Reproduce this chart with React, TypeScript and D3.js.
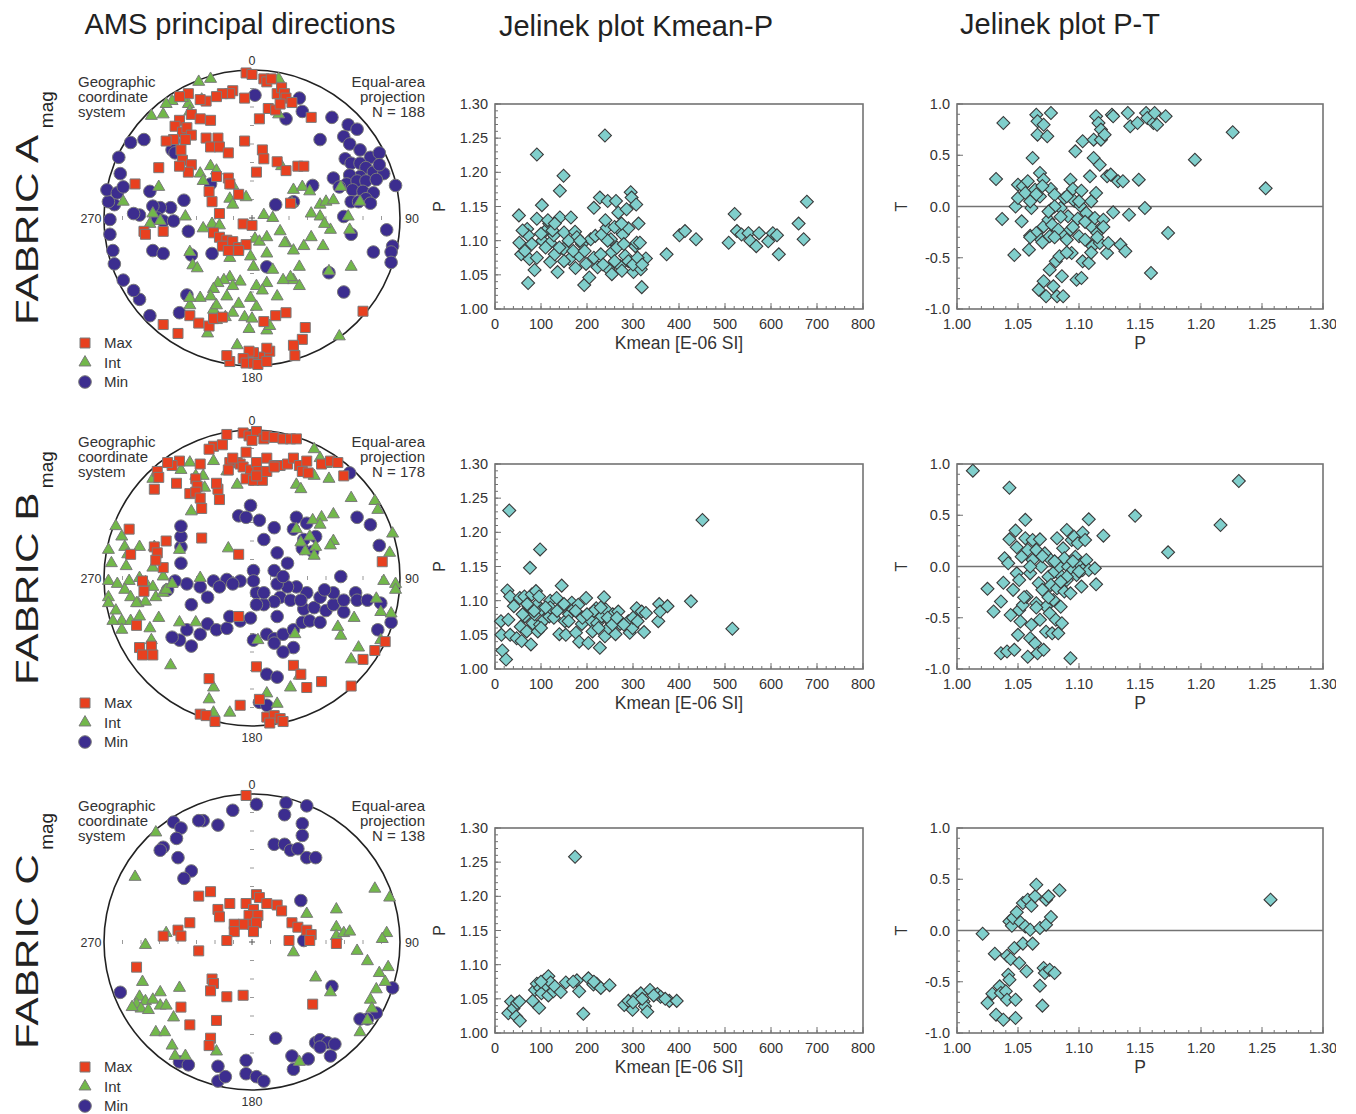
import * as d3 from "d3";

// AMS fabrics: stereonets + Jelinek plots.
// Stereonet points are equal-area projected positions in % of net radius: [east, north].

const FONT = '"Liberation Sans", Arial, Helvetica, sans-serif';

const maxA: [number, number][] = [
  [-4, 98], [0, 97], [8, 94], [10, 92], [13, 94], [17, 84], [20, 88], [22, 84], [23, 81], [27, 78], [11, 74], [16, 73], [19, 77], [5, 67], [40, 68],
  [-5, 81], [-13, 86], [-15, 84], [-20, 84], [-24, 82], [-31, 79], [-35, 80], [-43, 84], [-49, 82], [-41, 70], [-49, 66], [-52, 62], [-47, 58], [-44, 61],
  [-35, 67], [-28, 66], [-41, 56], [-45, 53], [-53, 53], [-58, 52], [-48, 46], [-47, 39], [-41, 36], [-43, 31], [-49, 35], [-63, 34], [-31, 54], [-23, 54],
  [-28, 48], [-22, 48], [-16, 44], [-5, 52], [7, 46], [8, 40], [3, 31], [17, 38], [23, 32], [31, 35], [-24, 28], [-16, 27], [-15, 23], [-9, 16], [-29, 18],
  [-27, 11], [-22, 3], [-6, -4], [0, -5], [-26, -10], [-22, -13], [-17, -15], [-13, -16], [-9, -20], [-20, -19], [-4, -18], [-16, -22], [-9, -22], [-79, 23],
  [-73, -9], [-72, -11], [-60, -9], [26, 10], [35, 35], [75, -63], [-60, -72], [-50, -78], [-42, -66], [-36, -71], [-29, -73], [-26, -68], [-20, -67], [8, -70],
  [16, -66], [23, -64], [36, -74], [34, -82], [28, -86], [29, -93], [12, -90], [10, -88], [5, -94], [1, -91], [-2, -90], [-6, -95], [-4, -98], [1, -98],
  [-15, -97], [-17, -93], [4, -99], [10, -97],
];
const intA: [number, number][] = [
  [-36, 92], [-28, 94], [18, 94], [18, 70], [-54, 79], [-43, 77], [-34, 80], [-42, 72], [-60, 70], [-68, 69], [-58, 77], [-47, 81], [-28, 35], [-35, 30],
  [-24, 32], [20, 35], [-63, 21], [-33, 25], [-13, 22], [-4, 14], [-15, 13], [-13, 9], [-27, -4], [-33, -7], [-22, -5], [28, 19], [34, 21], [27, 10],
  [39, 18], [46, 9], [50, 11], [55, 12], [60, 21], [73, 11], [65, 1], [53, -8], [66, -8], [40, 3], [46, 1], [49, -4], [8, 2], [14, 0], [19, -9], [23, -17],
  [28, -22], [35, -19], [40, -13], [48, -19], [2, -14], [5, -16], [10, -24], [14, -35], [22, -17], [67, -33], [52, -36], [32, -33], [28, -42], [32, -46],
  [26, -40], [21, -42], [17, -53], [10, -44], [3, -46], [7, -49], [1, -33], [-1, -26], [-8, -43], [-15, -40], [-19, -42], [-23, -44], [-26, -48], [-28, -53],
  [-35, -54], [-42, -59], [-26, -62], [-17, -53], [-13, -64], [-18, -67], [-24, -69], [-30, -78], [-24, -59], [-9, -58], [-5, -67], [0, -68], [-2, -75],
  [10, -76], [12, -73], [-10, -86], [59, -80], [-62, -2], [-67, 3], [-69, -4], [-87, 11], [-42, -23], [-40, -32], [-37, -34], [-42, -54], [-15, -27],
  [-13, -46], [-1, -54], [3, -60], [-45, 1], [10, -13],
];
const minA: [number, number][] = [
  [2, 83], [32, 81], [34, 72], [23, 67], [54, 68], [65, 63], [71, 60], [62, 55], [46, 53], [66, 50], [73, 46], [80, 41], [86, 44], [63, 40], [67, 37],
  [73, 37], [77, 34], [82, 31], [89, 30], [86, 36], [73, 28], [66, 29], [55, 27], [64, 23], [71, 25], [77, 25], [84, 26], [59, 21], [68, 19], [75, 18],
  [82, 17], [97, 22], [67, 11], [72, 11], [77, 13], [80, 10], [41, 22], [28, 11], [16, 9], [62, 1], [67, -11], [91, -8], [95, -19], [94, -23], [94, -30],
  [82, -23], [62, -50], [52, -37], [10, -33], [-27, -24], [-41, -25], [-43, -9], [-46, 12], [-55, 7], [-62, 7], [-67, 8], [-64, 0], [-60, -2], [-53, -2],
  [-76, 2], [-80, 3], [-69, 18], [-67, -22], [-60, -24], [-44, -52], [-49, -64], [-69, -66], [-76, -55], [-80, -49], [-87, -42], [-93, -31], [-94, -22],
  [-96, -11], [-96, -1], [-93, 9], [-97, 11], [-98, 19], [-91, 17], [-87, 21], [-89, 30], [-90, 41], [-82, 51], [-73, 53], [-53, 52], [-54, 46], [-52, 44],
  [-28, 23],
];

const maxB: [number, number][] = [
  [-17, 97], [-6, 98], [-2, 96], [3, 99], [0, 93], [8, 94], [10, 96], [15, 95], [21, 94], [26, 94], [30, 94], [-26, 89], [-20, 90], [-29, 87], [-4, 85],
  [-10, 78], [-15, 78], [-8, 77], [-6, 75], [-1, 73], [3, 78], [4, 72], [10, 81], [15, 76], [19, 76], [24, 77], [28, 81], [32, 76], [37, 79], [34, 72],
  [38, 71], [47, 77], [53, 79], [58, 78], [62, 69], [-4, 67], [1, 66], [7, 66], [3, 69], [-35, 77], [-49, 79], [-54, 76], [-57, 78], [-64, 72], [-63, 68],
  [-51, 64], [-66, 60], [-38, 67], [-37, 62], [-42, 57], [-38, 58], [-35, 54], [-34, 47], [-23, 60], [-22, 53], [-24, 64], [-13, 81], [-16, 73], [10, 72],
  [15, 75], [-83, 33], [-82, 16], [-66, 21], [-64, 17], [-60, 7], [-65, 12], [-58, 25], [-74, -2], [-73, -9], [-78, -32], [-76, -47], [-68, -46], [-74, -52],
  [-67, -52], [-34, 27], [-9, 16], [-9, -26], [3, -60], [28, -59], [33, -65], [37, -74], [47, -70], [67, -73], [75, -55], [83, -49], [90, -43], [88, 11],
  [-29, -68], [-8, -86], [5, -82], [-35, -92], [-31, -93], [-25, -97], [10, -94], [15, -93], [19, -95], [12, -98], [21, -97],
];
const intB: [number, number][] = [
  [-42, 78], [-33, 69], [-26, 79], [-17, 72], [-10, 63], [-38, 69], [-32, 61], [-41, 45], [-67, 67], [-48, 73], [42, 87], [46, 81], [50, 77], [42, 69],
  [52, 67], [30, 63], [33, 60], [67, 54], [83, 52], [85, 46], [55, 43], [47, 41], [41, 39], [46, 36], [30, 33], [39, 28], [33, 24], [43, 21], [36, 18],
  [42, 15], [55, 25], [53, 22], [95, 30], [93, 17], [89, -2], [97, -4], [97, -8], [84, -14], [87, -23], [94, -24], [69, -27], [60, -39], [58, -33], [87, -42],
  [72, -47], [67, -55], [29, -38], [32, -66], [26, -74], [10, -78], [17, -85], [-26, -74], [-29, -82], [-26, -91], [-15, -91], [-55, -59], [-49, -30],
  [-38, -30], [-16, 20], [4, -42], [-35, 0], [-92, 35], [-88, 28], [-86, 21], [-84, 16], [-97, 19], [-95, 10], [-85, 8], [-76, 21], [-66, 21], [-49, 19],
  [-67, 7], [-60, 1], [-97, -2], [-91, -4], [-83, -2], [-76, 0], [-72, -3], [-67, -6], [-86, -8], [-82, -13], [-77, -17], [-72, -16], [-65, -13], [-60, -10],
  [-97, -13], [-97, -17], [-92, -22], [-88, -29], [-82, -29], [-76, -26], [-69, -34], [-63, -27], [-78, -17], [-94, -29], [-88, -35], [-68, -42], [-58, -8],
  [-54, -4],
];
const minB: [number, number][] = [
  [-1, 49], [-9, 42], [-4, 41], [5, 39], [15, 34], [8, 26], [30, 41], [37, 37], [28, 33], [34, 20], [41, 18], [43, 28], [35, 26], [71, 41], [80, 36],
  [86, 22], [66, 71], [17, 17], [24, 10], [1, 5], [-8, -2], [-17, -1], [-26, -2], [-35, -6], [-44, -4], [-52, -2], [-48, 10], [-48, 21], [-48, 28], [-48, 35],
  [-57, -8], [-30, -13], [-41, -18], [-30, -31], [-35, -38], [-44, -35], [-49, -42], [-54, -40], [-41, -46], [-24, -35], [-17, -34], [-15, -26], [-8, -29],
  [-1, -27], [1, -42], [10, -38], [15, -41], [17, -26], [21, -38], [28, -35], [34, -30], [39, -29], [46, -30], [35, -21], [42, -20], [50, -22], [55, -18],
  [62, -23], [55, -10], [62, -15], [46, -13], [37, -10], [30, -6], [24, -6], [17, -4], [19, -13], [26, -15], [33, -15], [15, -16], [8, -18], [3, -10],
  [8, -10], [15, 5], [21, 1], [1, -2], [3, -18], [28, -47], [21, -50], [15, -44], [10, -65], [17, -67], [5, -84], [10, -86], [60, 1], [70, -10], [71, -15],
  [78, -15], [87, -17], [94, -30], [85, -35], [49, -8], [-22, -6], [-13, -4],
];

const maxC: [number, number][] = [
  [-4, 99], [-36, 31], [-28, 34], [-15, 26], [-23, 22], [-22, 17], [-4, 26], [3, 32], [5, 30], [10, 26], [1, 22], [-2, 18], [4, 18], [0, 12], [-6, 12],
  [3, 13], [-12, 12], [-12, 7], [1, 7], [17, 25], [20, 21], [27, 13], [31, 10], [37, 8], [40, 5], [39, 1], [57, -1], [25, 1], [-17, 1], [-36, -6],
  [-42, 13], [-50, 8], [-48, 4], [-60, 4], [-78, -17], [-27, -25], [-26, -28], [-28, -33], [-17, -37], [-6, -36], [-48, -44], [-24, -53], [-42, -56],
  [-28, -65], [-29, -70], [41, -42],
];
const intC: [number, number][] = [
  [-65, 74], [-79, 44], [83, 36], [93, 30], [37, 19], [57, 22], [57, 10], [57, 4], [62, 6], [66, 7], [71, -6], [78, -13], [86, -21], [92, -17], [91, 6],
  [88, 2], [90, -27], [84, -32], [80, -39], [81, -45], [78, -53], [73, -61], [43, -24], [53, -34], [28, -7], [-58, 6], [-72, -2], [-74, -27], [-76, -37],
  [-72, -40], [-67, -39], [-62, -34], [-62, -43], [-58, -43], [-53, -51], [-49, -31], [-78, -42], [-75, -45], [-70, -46], [-81, -44], [-65, -61],
  [-59, -61], [-54, -70], [-52, -77], [-45, -77], [-24, -74], [32, -81],
];
const minC: [number, number][] = [
  [3, 93], [23, 94], [37, 92], [-13, 89], [-23, 79], [-33, 82], [-36, 82], [-53, 81], [-48, 77], [-51, 70], [-60, 64], [-62, 62], [-50, 57], [-41, 48],
  [-46, 43], [22, 86], [34, 80], [34, 72], [15, 66], [22, 66], [26, 62], [31, 63], [37, 57], [43, 57], [33, 28], [35, 1], [54, -30], [95, -31], [84, -48],
  [78, -52], [73, -52], [16, -65], [43, -68], [46, -66], [51, -68], [56, -69], [46, -71], [53, -77], [27, -77], [28, -86], [38, -79], [-4, -80], [-4, -89],
  [3, -91], [8, -94], [-23, -84], [-23, -94], [-18, -91], [-49, -81], [-43, -83], [-89, -34],
];

// Jelinek plots: [Kmean (E-06 SI), P] and [P, T]
const kpA: [number, number][] = [
  [52, 1.137], [53, 1.097], [57, 1.08], [70, 1.117], [72, 1.108], [75, 1.073], [72, 1.038], [86, 1.057], [91, 1.226], [91, 1.132], [91, 1.075],
  [102, 1.152], [103, 1.1], [109, 1.114], [118, 1.125], [120, 1.069], [120, 1.097], [128, 1.108], [130, 1.08], [136, 1.054], [141, 1.173], [141, 1.134],
  [149, 1.195], [150, 1.112], [149, 1.088], [165, 1.134], [162, 1.073], [174, 1.113], [178, 1.105], [183, 1.078], [189, 1.095], [194, 1.035], [198, 1.066],
  [205, 1.046], [208, 1.102], [215, 1.148], [218, 1.107], [223, 1.061], [228, 1.163], [232, 1.109], [239, 1.254], [243, 1.119], [245, 1.158], [247, 1.058],
  [252, 1.102], [254, 1.083], [254, 1.051], [263, 1.158], [266, 1.119], [268, 1.141], [272, 1.063], [276, 1.056], [278, 1.109], [283, 1.078], [286, 1.146],
  [290, 1.118], [295, 1.171], [297, 1.163], [301, 1.054], [305, 1.092], [307, 1.153], [308, 1.097], [312, 1.125], [315, 1.097], [317, 1.058], [319, 1.032],
  [328, 1.074], [373, 1.08], [401, 1.108], [413, 1.114], [437, 1.102], [508, 1.097], [521, 1.139], [526, 1.114], [536, 1.109], [551, 1.111], [555, 1.1],
  [568, 1.092], [574, 1.111], [594, 1.099], [604, 1.111], [613, 1.108], [617, 1.08], [660, 1.125], [671, 1.102], [678, 1.157],
  [100, 1.11], [110, 1.09], [125, 1.115], [140, 1.09], [160, 1.1], [170, 1.085], [185, 1.1], [195, 1.085], [215, 1.075], [230, 1.08], [235, 1.065],
  [245, 1.1], [260, 1.07], [265, 1.09], [280, 1.095], [290, 1.07], [300, 1.065], [310, 1.075], [320, 1.065], [260, 1.12], [275, 1.125], [115, 1.13],
  [130, 1.125], [60, 1.115], [65, 1.085], [80, 1.095], [150, 1.07], [175, 1.06], [240, 1.13],
];
const ptA: [number, number][] = [
  [1.032, 0.268], [1.037, -0.122], [1.038, 0.815], [1.047, -0.473], [1.048, 0.0], [1.05, 0.213], [1.05, 0.083], [1.053, -0.145], [1.054, 0.197],
  [1.056, 0.132], [1.058, 0.246], [1.059, -0.421], [1.06, -0.285], [1.061, -0.015], [1.062, 0.473], [1.064, 0.163], [1.065, -0.259], [1.065, 0.896],
  [1.066, 0.701], [1.066, 0.831], [1.068, 0.327], [1.068, 0.098], [1.067, -0.811], [1.069, -0.324], [1.071, 0.262], [1.071, -0.194], [1.071, 0.798],
  [1.071, -0.73], [1.073, -0.876], [1.074, 0.685], [1.075, -0.129], [1.076, -0.291], [1.076, -0.616], [1.077, 0.912], [1.077, 0.171], [1.077, -0.03],
  [1.078, -0.177], [1.079, -0.779], [1.08, 0.115], [1.081, -0.535], [1.082, -0.876], [1.083, -0.226], [1.084, -0.486], [1.085, -0.015], [1.086, -0.681],
  [1.087, -0.876], [1.088, 0.083], [1.088, -0.291], [1.09, -0.324], [1.091, -0.096], [1.093, 0.262], [1.093, -0.226], [1.094, -0.454], [1.095, 0.171],
  [1.096, 0.057], [1.097, 0.538], [1.098, -0.714], [1.099, -0.119], [1.1, -0.291], [1.101, 0.008], [1.102, -0.698], [1.102, 0.154], [1.103, 0.636],
  [1.103, -0.535], [1.105, -0.324], [1.106, -0.063], [1.108, -0.551], [1.109, 0.294], [1.11, -0.194], [1.11, 0.05], [1.111, -0.389], [1.112, 0.652],
  [1.112, 0.473], [1.113, -0.112], [1.114, 0.88], [1.114, 0.132], [1.115, -0.259], [1.116, 0.815], [1.117, 0.408], [1.117, -0.356], [1.118, 0.75],
  [1.118, 0.652], [1.119, -0.194], [1.12, -0.129], [1.121, 0.701], [1.123, 0.294], [1.123, -0.454], [1.124, -0.356], [1.126, 0.311], [1.127, 0.896],
  [1.128, 0.88], [1.128, -0.057], [1.132, 0.246], [1.134, -0.372], [1.136, 0.246], [1.138, -0.437], [1.14, 0.912], [1.141, -0.08], [1.142, 0.782],
  [1.148, 0.815], [1.149, 0.262], [1.154, -0.015], [1.155, 0.912], [1.156, 0.863], [1.159, -0.649], [1.161, 0.815], [1.162, 0.912], [1.164, 0.798],
  [1.171, 0.88], [1.173, -0.259], [1.195, 0.457], [1.226, 0.724], [1.253, 0.177],
  [1.06, 0.05], [1.07, 0.2], [1.08, 0.0], [1.09, 0.1], [1.1, 0.05], [1.065, 0.12], [1.075, -0.05], [1.085, -0.1], [1.095, -0.2], [1.105, -0.15],
  [1.11, -0.45], [1.09, -0.45], [1.08, -0.3], [1.07, -0.35], [1.06, -0.3], [1.115, -0.3], [1.12, -0.2],
];

const kpB: [number, number][] = [
  [13, 1.07], [14, 1.05], [16, 1.027], [24, 1.014], [29, 1.072], [31, 1.232], [27, 1.115], [33, 1.106], [33, 1.05], [41, 1.092], [47, 1.045], [54, 1.104],
  [56, 1.062], [58, 1.041], [64, 1.106], [65, 1.077], [69, 1.055], [73, 1.092], [76, 1.148], [78, 1.036], [80, 1.109], [82, 1.067], [86, 1.08], [89, 1.114],
  [91, 1.094], [93, 1.055], [96, 1.106], [98, 1.175], [98, 1.065], [102, 1.087], [107, 1.072], [118, 1.077], [120, 1.1], [128, 1.075], [134, 1.104],
  [140, 1.051], [145, 1.122], [147, 1.092], [152, 1.07], [154, 1.05], [161, 1.08], [167, 1.097], [170, 1.087], [176, 1.053], [181, 1.094], [183, 1.04],
  [189, 1.066], [198, 1.104], [203, 1.038], [207, 1.08], [210, 1.07], [212, 1.055], [220, 1.089], [222, 1.067], [228, 1.031], [232, 1.077], [237, 1.105],
  [239, 1.048], [241, 1.087], [247, 1.06], [250, 1.07], [256, 1.08], [262, 1.051], [268, 1.084], [272, 1.066], [290, 1.07], [293, 1.053], [299, 1.06],
  [308, 1.089], [319, 1.084], [324, 1.054], [328, 1.082], [355, 1.07], [357, 1.095], [359, 1.084], [375, 1.092], [426, 1.099], [451, 1.218], [516, 1.059],
  [60, 1.08], [85, 1.085], [100, 1.06], [120, 1.09], [135, 1.085], [160, 1.07], [175, 1.085], [190, 1.075], [215, 1.085], [225, 1.06], [245, 1.075],
  [255, 1.065], [280, 1.065], [300, 1.075], [310, 1.07], [70, 1.095], [110, 1.09], [150, 1.095], [200, 1.08], [230, 1.09], [265, 1.075],
];
const ptB: [number, number][] = [
  [1.013, 0.935], [1.025, -0.218], [1.03, -0.439], [1.036, -0.341], [1.036, -0.846], [1.038, -0.158], [1.039, 0.08], [1.041, -0.829], [1.042, 0.031],
  [1.043, 0.265], [1.043, 0.769], [1.044, -0.473], [1.046, -0.228], [1.047, -0.813], [1.048, 0.35], [1.049, -0.067], [1.049, 0.187], [1.05, -0.667],
  [1.051, -0.132], [1.051, -0.424], [1.052, -0.537], [1.053, 0.096], [1.054, -0.375], [1.056, 0.276], [1.056, 0.455], [1.057, -0.294], [1.058, -0.88],
  [1.058, 0.161], [1.06, -0.7], [1.06, -0.067], [1.061, -0.569], [1.062, 0.259], [1.062, 0.063], [1.064, -0.75], [1.065, 0.161], [1.065, -0.359],
  [1.066, -0.846], [1.067, -0.164], [1.068, 0.265], [1.068, -0.52], [1.069, -0.002], [1.07, -0.228], [1.071, -0.813], [1.072, 0.128], [1.073, -0.392],
  [1.073, -0.636], [1.075, -0.099], [1.076, -0.457], [1.077, 0.063], [1.077, -0.18], [1.078, -0.652], [1.079, -0.327], [1.08, -0.05], [1.081, -0.52],
  [1.082, 0.276], [1.082, -0.213], [1.083, -0.652], [1.084, -0.002], [1.085, -0.392], [1.086, -0.099], [1.086, -0.553], [1.087, 0.177], [1.088, -0.245],
  [1.088, 0.08], [1.09, 0.356], [1.09, -0.132], [1.091, -0.002], [1.093, -0.262], [1.093, -0.895], [1.094, 0.259], [1.095, -0.034], [1.096, 0.291],
  [1.097, 0.096], [1.098, -0.083], [1.099, 0.226], [1.101, 0.015], [1.102, -0.196], [1.103, 0.33], [1.103, -0.034], [1.105, 0.259], [1.106, 0.063],
  [1.108, 0.46], [1.108, -0.034], [1.113, -0.018], [1.114, -0.174], [1.12, 0.301], [1.146, 0.494], [1.173, 0.138], [1.216, 0.405], [1.231, 0.834],
  [1.06, 0.0], [1.07, 0.1], [1.08, 0.05], [1.09, -0.1], [1.075, -0.3], [1.085, -0.15], [1.065, -0.4], [1.055, -0.3], [1.095, 0.05], [1.1, -0.05],
];

const kpC: [number, number][] = [
  [29, 1.029], [35, 1.046], [40, 1.036], [46, 1.024], [48, 1.044], [53, 1.046], [54, 1.018], [82, 1.047], [87, 1.063], [91, 1.072], [96, 1.037],
  [98, 1.066], [101, 1.058], [107, 1.077], [112, 1.069], [116, 1.083], [116, 1.055], [121, 1.074], [127, 1.061], [130, 1.068], [143, 1.06], [154, 1.074],
  [174, 1.258], [178, 1.077], [183, 1.061], [192, 1.028], [203, 1.08], [214, 1.071], [221, 1.072], [230, 1.066], [249, 1.07], [281, 1.041], [290, 1.047],
  [299, 1.034], [308, 1.053], [317, 1.058], [323, 1.046], [326, 1.039], [331, 1.031], [337, 1.063], [353, 1.057], [360, 1.053], [379, 1.047], [395, 1.047],
  [300, 1.045], [320, 1.05], [345, 1.055], [370, 1.05], [100, 1.075], [170, 1.075], [215, 1.075],
];
const ptC: [number, number][] = [
  [1.021, -0.031], [1.025, -0.707], [1.029, -0.616], [1.031, -0.226], [1.032, -0.821], [1.035, -0.545], [1.036, -0.61], [1.038, -0.87], [1.04, -0.593],
  [1.041, -0.675], [1.041, -0.246], [1.042, -0.431], [1.043, -0.48], [1.043, 0.089], [1.044, -0.278], [1.045, 0.047], [1.046, 0.122], [1.047, -0.171],
  [1.048, -0.675], [1.048, -0.854], [1.049, 0.177], [1.051, -0.317], [1.052, 0.08], [1.054, 0.268], [1.054, -0.128], [1.056, 0.04], [1.057, -0.398],
  [1.058, 0.301], [1.06, 0.008], [1.061, 0.242], [1.062, -0.128], [1.064, 0.333], [1.065, 0.447], [1.068, -0.538], [1.068, 0.024], [1.07, -0.733],
  [1.071, -0.366], [1.072, -0.415], [1.073, 0.057], [1.073, 0.301], [1.075, 0.333], [1.076, -0.382], [1.077, 0.132], [1.08, -0.415], [1.084, 0.392],
  [1.257, 0.301],
];

const fabricLetters = ["A", "B", "C"];
const fabricN = [188, 178, 138];
const maxSets = [maxA, maxB, maxC];
const intSets = [intA, intB, intC];
const minSets = [minA, minB, minC];
const kpSets = [kpA, kpB, kpC];
const ptSets = [ptA, ptB, ptC];

const titles = ["AMS principal directions", "Jelinek plot Kmean-P", "Jelinek plot P-T"];
const legendLabels = ["Max", "Int", "Min"];

// layout
const W = 1356;
const H = 1114;
const rowOffset = [0, 360, 724];
const NET = { cx: 252, cy: 218, r: 148 };
const KP = { left: 495, right: 863, top: 104, bottom: 309 };
const PT = { left: 957, right: 1323, top: 104, bottom: 309 };
// "FABRIC X" label: font 32, stretched 1.32 along the baseline; Arial advance widths in em
const LABEL_SIZE = 32;
const LABEL_STRETCH = 1.32;
const letterEm: Record<string, number> = { A: 0.667, B: 0.667, C: 0.722 };
const FABRIC_EM = 0.611 + 0.667 + 0.667 + 0.722 + 0.278 + 0.722 + 0.278;

const COL = {
  max: "#e8401f",
  int: "#72b84a",
  min: "#3c2d8f",
  markStroke: "#7a7a7a",
  diamond: "#80cfcc",
  diamondStroke: "#3a3a3a",
  frame: "#737373",
  text: "#333",
};

const squarePath = d3.symbol(d3.symbolSquare, 100)()!;
const trianglePath = d3.symbol(d3.symbolTriangle, 62)()!;
const circlePath = d3.symbol(d3.symbolCircle, 125)()!;
const diamondPath = d3.symbol(d3.symbolSquare, 84)()!;

function Stereonet({ i }: { i: number }) {
  const dy = rowOffset[i];
  const cx = NET.cx;
  const cy = NET.cy + dy;
  const R = NET.r;
  const sx = d3.scaleLinear().domain([-100, 100]).range([cx - R, cx + R]);
  const sy = d3.scaleLinear().domain([-100, 100]).range([cy + R, cy - R]);
  const grid = d3.range(-7, 8).filter((k) => k !== 0).map((k) => k * 12.5);
  const labelStart = 325 + dy;
  const labelLen = (FABRIC_EM + letterEm[fabricLetters[i]]) * LABEL_SIZE * LABEL_STRETCH;

  const layer = (pts: [number, number][], path: string, fill: string, key: string) => (
    <g key={key}>
      {pts.map((d, j) => (
        <path
          key={j}
          d={path}
          transform={`translate(${sx(d[0])},${sy(d[1])})`}
          fill={fill}
          stroke={COL.markStroke}
          strokeWidth={1}
        />
      ))}
    </g>
  );

  return (
    <g fontFamily={FONT} fill={COL.text}>
      <circle cx={cx} cy={cy} r={R} fill="none" stroke="#222" strokeWidth={1.6} />
      {grid.map((v) => (
        <g key={v} stroke="#9a9a9a" strokeWidth={1}>
          <line x1={sx(v)} x2={sx(v)} y1={cy - 2} y2={cy + 2} />
          <line x1={cx - 2} x2={cx + 2} y1={sy(v)} y2={sy(v)} />
        </g>
      ))}
      <line x1={cx - 3} x2={cx + 3} y1={cy} y2={cy} stroke="#555" />
      <line x1={cx} x2={cx} y1={cy - 3} y2={cy + 3} stroke="#555" />
      {layer(minSets[i], circlePath, COL.min, "min")}
      {layer(intSets[i], trianglePath, COL.int, "int")}
      {layer(maxSets[i], squarePath, COL.max, "max")}

      <g fontSize={12.5} textAnchor="middle">
        <text x={cx} y={cy - R - 5}>0</text>
        <text x={cx} y={cy + R + 16}>180</text>
        <text x={cx - R - 13} y={cy + 5}>270</text>
        <text x={cx + R + 12} y={cy + 5}>90</text>
      </g>
      <g fontSize={15}>
        <text x={78} y={87 + dy}>Geographic</text>
        <text x={78} y={102 + dy}>coordinate</text>
        <text x={78} y={117 + dy}>system</text>
      </g>
      <g fontSize={15} textAnchor="end">
        <text x={425} y={87 + dy}>Equal-area</text>
        <text x={425} y={102 + dy}>projection</text>
        <text x={425} y={117 + dy}>{`N = ${fabricN[i]}`}</text>
      </g>
      {legendLabels.map((lab, k) => {
        const y = 343 + dy + k * 19.5;
        const path = [squarePath, trianglePath, circlePath][k];
        const fill = [COL.max, COL.int, COL.min][k];
        return (
          <g key={lab}>
            <path d={path} transform={`translate(85,${y})`} fill={fill} stroke={COL.markStroke} />
            <text x={104} y={y + 5} fontSize={15}>{lab}</text>
          </g>
        );
      })}
      <text
        transform={`translate(38,${labelStart}) rotate(-90) scale(${LABEL_STRETCH},1)`}
        fontSize={LABEL_SIZE}
        fill="#222"
      >
        {`FABRIC ${fabricLetters[i]}`}
      </text>
      <text
        transform={`translate(53,${labelStart - labelLen - 2}) rotate(-90)`}
        fontSize={19}
        fill="#222"
      >
        mag
      </text>
    </g>
  );
}

type Frame = { left: number; right: number; top: number; bottom: number };

function Scatter({
  i,
  box,
  data,
  xDomain,
  yDomain,
  xMajor,
  xMinor,
  yMajor,
  yMinor,
  xFmt,
  yFmt,
  xLabel,
  yLabel,
  zeroLine,
}: {
  i: number;
  box: Frame;
  data: [number, number][];
  xDomain: [number, number];
  yDomain: [number, number];
  xMajor: number;
  xMinor: number;
  yMajor: number;
  yMinor: number;
  xFmt: (v: number) => string;
  yFmt: (v: number) => string;
  xLabel: string;
  yLabel: string;
  zeroLine?: boolean;
}) {
  const dy = rowOffset[i];
  const x = d3.scaleLinear().domain(xDomain).range([box.left, box.right]);
  const y = d3.scaleLinear().domain(yDomain).range([box.bottom + dy, box.top + dy]);
  const steps = (d: [number, number], s: number) =>
    d3.range(0, Math.round((d[1] - d[0]) / s) + 1).map((k) => d[0] + k * s);
  const xMaj = steps(xDomain, xMajor);
  const xMin = steps(xDomain, xMinor);
  const yMaj = steps(yDomain, yMajor);
  const yMin = steps(yDomain, yMinor);
  const b = box.bottom + dy;
  const t = box.top + dy;

  return (
    <g fontFamily={FONT} fill={COL.text}>
      <g stroke={COL.frame} strokeWidth={1}>
        {xMin.map((v, k) => (
          <line key={`xm${k}`} x1={x(v)} x2={x(v)} y1={b} y2={b - 3} />
        ))}
        {xMaj.map((v, k) => (
          <line key={`xM${k}`} x1={x(v)} x2={x(v)} y1={b} y2={b - 6} />
        ))}
        {yMin.map((v, k) => (
          <line key={`ym${k}`} x1={box.left} x2={box.left + 3} y1={y(v)} y2={y(v)} />
        ))}
        {yMaj.map((v, k) => (
          <line key={`yM${k}`} x1={box.left} x2={box.left + 6} y1={y(v)} y2={y(v)} />
        ))}
      </g>
      {zeroLine && (
        <line x1={box.left} x2={box.right} y1={y(0)} y2={y(0)} stroke={COL.frame} strokeWidth={1.5} />
      )}
      <rect
        x={box.left}
        y={t}
        width={box.right - box.left}
        height={b - t}
        fill="none"
        stroke={COL.frame}
        strokeWidth={1.6}
      />
      {data.map((d, k) => (
        <path
          key={k}
          d={diamondPath}
          transform={`translate(${x(d[0])},${y(d[1])}) rotate(45)`}
          fill={COL.diamond}
          stroke={COL.diamondStroke}
          strokeWidth={1.1}
        />
      ))}
      <g fontSize={14.5} textAnchor="middle">
        {xMaj.map((v, k) => (
          <text key={k} x={x(v)} y={b + 20}>{xFmt(v)}</text>
        ))}
      </g>
      <g fontSize={14.5} textAnchor="end">
        {yMaj.map((v, k) => (
          <text key={k} x={box.left - 7} y={y(v) + 5}>{yFmt(v)}</text>
        ))}
      </g>
      <text x={(box.left + box.right) / 2} y={b + 40} fontSize={17.5} textAnchor="middle">
        {xLabel}
      </text>
      <text
        transform={`translate(${box.left - 50},${(t + b) / 2}) rotate(-90)`}
        fontSize={16}
        textAnchor="middle"
      >
        {yLabel}
      </text>
    </g>
  );
}

export default function App() {
  return (
    <svg
      width={W}
      height={H}
      viewBox={`0 0 ${W} ${H}`}
      style={{ position: "absolute", left: 0, top: 0, background: "#fff" }}
    >
      <defs>
        <clipPath id="edge-clip">
          <rect x={0} y={0} width={1336} height={H} />
        </clipPath>
      </defs>
      <rect width={W} height={H} fill="#fff" />
      <g fontFamily={FONT} fontSize={29} fill="#222" textAnchor="middle">
        <text x={240} y={34}>{titles[0]}</text>
        <text x={636} y={36}>{titles[1]}</text>
        <text x={1060} y={34}>{titles[2]}</text>
      </g>
      {[0, 1, 2].map((i) => (
        <g key={i}>
          <Stereonet i={i} />
          <Scatter
            i={i}
            box={KP}
            data={kpSets[i]}
            xDomain={[0, 800]}
            yDomain={[1.0, 1.3]}
            xMajor={100}
            xMinor={20}
            yMajor={0.05}
            yMinor={0.01}
            xFmt={(v) => d3.format("d")(v)}
            yFmt={(v) => v.toFixed(2)}
            xLabel="Kmean [E-06 SI]"
            yLabel="P"
          />
          <g clipPath="url(#edge-clip)">
            <Scatter
              i={i}
              box={PT}
              data={ptSets[i]}
              xDomain={[1.0, 1.3]}
              yDomain={[-1, 1]}
              xMajor={0.05}
              xMinor={0.01}
              yMajor={0.5}
              yMinor={0.1}
              xFmt={(v) => v.toFixed(2)}
              yFmt={(v) => v.toFixed(1)}
              xLabel="P"
              yLabel="T"
              zeroLine
            />
          </g>
        </g>
      ))}
    </svg>
  );
}
